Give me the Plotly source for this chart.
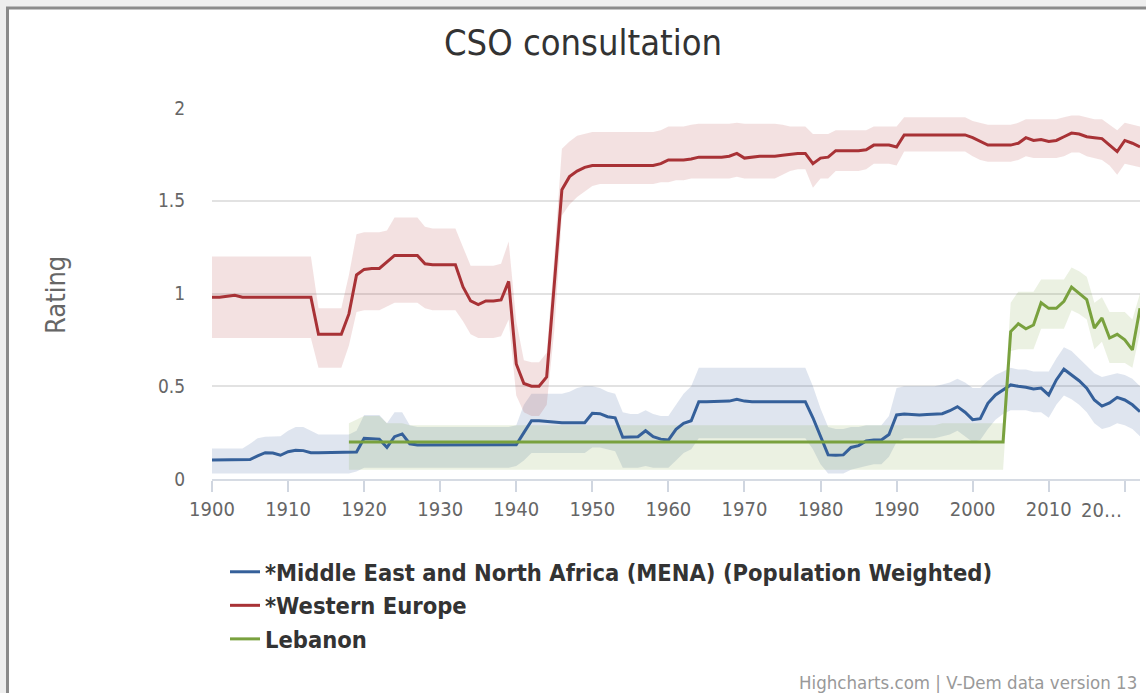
import plotly.graph_objects as go

# ---------------- data ----------------
years = list(range(1900, 2023))
leb_years = list(range(1918, 2023))

x_tick_years = [1900, 1910, 1920, 1930, 1940, 1950, 1960, 1970, 1980, 1990, 2000, 2010, 2020]
x_tick_labels = ["1900", "1910", "1920", "1930", "1940", "1950", "1960", "1970",
                 "1980", "1990", "2000", "2010", "20…"]
y_tick_vals = [0, 0.5, 1, 1.5, 2]
y_tick_labels = ["0", "0.5", "1", "1.5", "2"]

mena = [
    0.102, 0.102, 0.102, 0.102, 0.102, 0.105, 0.125, 0.142, 0.140, 0.128,
    0.147, 0.155, 0.153, 0.142, 0.142, 0.142, 0.142, 0.142, 0.142, 0.145,
    0.219, 0.219, 0.215, 0.170, 0.228, 0.243, 0.190, 0.183, 0.183, 0.183,
    0.183, 0.183, 0.183, 0.183, 0.183, 0.183, 0.183, 0.183, 0.183, 0.183,
    0.185, 0.250, 0.314, 0.314, 0.310, 0.303, 0.303, 0.303, 0.303, 0.303,
    0.354, 0.352, 0.336, 0.330, 0.225, 0.227, 0.228, 0.260, 0.228, 0.215,
    0.210, 0.268, 0.300, 0.314, 0.417, 0.417, 0.417, 0.417, 0.420, 0.430,
    0.420, 0.417, 0.417, 0.417, 0.417, 0.417, 0.417, 0.417, 0.417, 0.330,
    0.230, 0.130, 0.128, 0.130, 0.170, 0.180, 0.205, 0.210, 0.210, 0.240,
    0.345, 0.350, 0.348, 0.345, 0.348, 0.350, 0.352, 0.368, 0.390, 0.360,
    0.320, 0.325, 0.408, 0.453, 0.480, 0.507, 0.500, 0.495, 0.485, 0.490,
    0.453, 0.534, 0.592, 0.560, 0.530, 0.490, 0.426, 0.393, 0.410, 0.440,
    0.426, 0.400, 0.363,
]
mena_hi = [
    0.165, 0.165, 0.165, 0.165, 0.165, 0.190, 0.220, 0.228, 0.228, 0.230,
    0.260, 0.280, 0.280, 0.260, 0.240, 0.240, 0.240, 0.240, 0.240, 0.260,
    0.345, 0.345, 0.345, 0.300, 0.360, 0.360, 0.290, 0.280, 0.280, 0.280,
    0.280, 0.280, 0.280, 0.280, 0.280, 0.280, 0.280, 0.280, 0.280, 0.280,
    0.290, 0.400, 0.460, 0.460, 0.460, 0.460, 0.460, 0.470, 0.490, 0.500,
    0.500, 0.490, 0.470, 0.460, 0.360, 0.350, 0.350, 0.370, 0.350, 0.340,
    0.340, 0.400, 0.460, 0.500, 0.600, 0.600, 0.600, 0.600, 0.600, 0.600,
    0.600, 0.600, 0.600, 0.600, 0.600, 0.600, 0.600, 0.600, 0.600, 0.500,
    0.380, 0.280, 0.270, 0.270, 0.280, 0.280, 0.290, 0.290, 0.290, 0.340,
    0.490, 0.500, 0.500, 0.500, 0.500, 0.500, 0.510, 0.520, 0.540, 0.520,
    0.490, 0.490, 0.530, 0.560, 0.580, 0.600, 0.590, 0.590, 0.580, 0.580,
    0.580, 0.650, 0.710, 0.690, 0.650, 0.610, 0.570, 0.550, 0.560, 0.570,
    0.560, 0.540, 0.500,
]
mena_lo = [
    0.030, 0.030, 0.030, 0.030, 0.030, 0.030, 0.030, 0.030, 0.030, 0.030,
    0.030, 0.030, 0.030, 0.030, 0.030, 0.030, 0.030, 0.030, 0.030, 0.040,
    0.060, 0.060, 0.060, 0.060, 0.060, 0.060, 0.060, 0.060, 0.060, 0.060,
    0.060, 0.060, 0.060, 0.060, 0.060, 0.060, 0.060, 0.060, 0.060, 0.060,
    0.070, 0.100, 0.140, 0.140, 0.140, 0.140, 0.140, 0.140, 0.140, 0.140,
    0.170, 0.170, 0.160, 0.150, 0.060, 0.060, 0.060, 0.070, 0.060, 0.060,
    0.060, 0.100, 0.140, 0.160, 0.220, 0.220, 0.220, 0.220, 0.220, 0.220,
    0.220, 0.220, 0.220, 0.220, 0.220, 0.220, 0.220, 0.220, 0.220, 0.160,
    0.080, 0.030, 0.030, 0.030, 0.050, 0.060, 0.070, 0.080, 0.080, 0.120,
    0.200, 0.220, 0.220, 0.220, 0.220, 0.220, 0.230, 0.240, 0.260, 0.230,
    0.200, 0.210, 0.270, 0.320, 0.350, 0.370, 0.370, 0.370, 0.360, 0.360,
    0.330, 0.400, 0.450, 0.430, 0.400, 0.360, 0.300, 0.270, 0.280, 0.300,
    0.290, 0.270, 0.230,
]

weu = [
    0.980, 0.980, 0.985, 0.990, 0.980, 0.980, 0.980, 0.980, 0.980, 0.980,
    0.980, 0.980, 0.980, 0.980, 0.780, 0.780, 0.780, 0.780, 0.890, 1.100,
    1.130, 1.135, 1.135, 1.170, 1.205, 1.205, 1.205, 1.205, 1.160, 1.155,
    1.155, 1.155, 1.155, 1.035, 0.960, 0.940, 0.960, 0.960, 0.965, 1.065,
    0.620, 0.515, 0.500, 0.500, 0.550, 1.050, 1.560, 1.630, 1.660, 1.680,
    1.690, 1.690, 1.690, 1.690, 1.690, 1.690, 1.690, 1.690, 1.690, 1.700,
    1.720, 1.720, 1.720, 1.725, 1.735, 1.735, 1.735, 1.735, 1.740, 1.755,
    1.730, 1.735, 1.740, 1.740, 1.740, 1.745, 1.750, 1.755, 1.755, 1.700,
    1.730, 1.735, 1.770, 1.770, 1.770, 1.770, 1.775, 1.800, 1.800, 1.800,
    1.790, 1.855, 1.855, 1.855, 1.855, 1.855, 1.855, 1.855, 1.855, 1.855,
    1.840, 1.820, 1.800, 1.800, 1.800, 1.800, 1.810, 1.840, 1.825, 1.830,
    1.820, 1.825, 1.845, 1.865, 1.860, 1.845, 1.840, 1.835, 1.800, 1.765,
    1.825, 1.810, 1.790,
]
weu_hi = [
    1.200, 1.200, 1.200, 1.200, 1.200, 1.200, 1.200, 1.200, 1.200, 1.200,
    1.200, 1.200, 1.200, 1.200, 0.920, 0.920, 0.920, 0.920, 1.100, 1.320,
    1.330, 1.330, 1.330, 1.340, 1.410, 1.410, 1.410, 1.410, 1.360, 1.350,
    1.350, 1.350, 1.350, 1.250, 1.150, 1.150, 1.150, 1.150, 1.160, 1.280,
    0.850, 0.640, 0.630, 0.630, 0.680, 1.200, 1.780, 1.820, 1.850, 1.860,
    1.870, 1.870, 1.870, 1.870, 1.870, 1.870, 1.870, 1.870, 1.870, 1.880,
    1.900, 1.900, 1.900, 1.910, 1.915, 1.915, 1.915, 1.915, 1.915, 1.920,
    1.915, 1.915, 1.915, 1.915, 1.915, 1.910, 1.900, 1.900, 1.900, 1.860,
    1.860, 1.860, 1.880, 1.880, 1.880, 1.880, 1.880, 1.900, 1.900, 1.900,
    1.900, 1.950, 1.950, 1.950, 1.950, 1.950, 1.950, 1.950, 1.950, 1.950,
    1.930, 1.920, 1.910, 1.910, 1.910, 1.910, 1.920, 1.940, 1.940, 1.940,
    1.940, 1.940, 1.950, 1.960, 1.960, 1.950, 1.940, 1.940, 1.910, 1.880,
    1.920, 1.910, 1.900,
]
weu_lo = [
    0.760, 0.760, 0.760, 0.760, 0.760, 0.760, 0.760, 0.760, 0.760, 0.760,
    0.760, 0.760, 0.760, 0.760, 0.600, 0.600, 0.600, 0.600, 0.720, 0.900,
    0.910, 0.910, 0.910, 0.930, 0.950, 0.950, 0.950, 0.950, 0.920, 0.910,
    0.910, 0.910, 0.910, 0.850, 0.780, 0.760, 0.760, 0.760, 0.770, 0.860,
    0.450, 0.360, 0.340, 0.340, 0.400, 0.800, 1.420, 1.480, 1.520, 1.550,
    1.580, 1.590, 1.590, 1.590, 1.590, 1.590, 1.590, 1.590, 1.590, 1.600,
    1.600, 1.610, 1.610, 1.620, 1.620, 1.620, 1.620, 1.620, 1.620, 1.630,
    1.620, 1.620, 1.620, 1.620, 1.620, 1.640, 1.660, 1.670, 1.670, 1.570,
    1.620, 1.620, 1.660, 1.660, 1.660, 1.660, 1.670, 1.700, 1.700, 1.700,
    1.690, 1.765, 1.765, 1.765, 1.765, 1.765, 1.765, 1.765, 1.765, 1.765,
    1.740, 1.720, 1.710, 1.710, 1.710, 1.710, 1.720, 1.740, 1.730, 1.730,
    1.730, 1.730, 1.740, 1.760, 1.760, 1.740, 1.730, 1.720, 1.690, 1.640,
    1.700, 1.690, 1.680,
]

leb = [
    0.200, 0.200,
    0.200, 0.200, 0.200, 0.200, 0.200, 0.200, 0.200, 0.200, 0.200, 0.200,
    0.200, 0.200, 0.200, 0.200, 0.200, 0.200, 0.200, 0.200, 0.200, 0.200,
    0.200, 0.200, 0.200, 0.200, 0.200, 0.200, 0.200, 0.200, 0.200, 0.200,
    0.200, 0.200, 0.200, 0.200, 0.200, 0.200, 0.200, 0.200, 0.200, 0.200,
    0.200, 0.200, 0.200, 0.200, 0.200, 0.200, 0.200, 0.200, 0.200, 0.200,
    0.200, 0.200, 0.200, 0.200, 0.200, 0.200, 0.200, 0.200, 0.200, 0.200,
    0.200, 0.200, 0.200, 0.200, 0.200, 0.200, 0.200, 0.200, 0.200, 0.200,
    0.200, 0.200, 0.200, 0.200, 0.200, 0.200, 0.200, 0.200, 0.200, 0.200,
    0.200, 0.200, 0.200, 0.200, 0.200, 0.795, 0.837, 0.810, 0.830, 0.950,
    0.920, 0.920, 0.958, 1.035, 1.000, 0.967, 0.814, 0.868, 0.760, 0.780,
    0.750, 0.696, 0.920,
]
leb_hi = [
    0.300, 0.320,
    0.340, 0.340, 0.340, 0.300, 0.300, 0.300, 0.290, 0.290, 0.290, 0.290,
    0.290, 0.290, 0.290, 0.290, 0.290, 0.290, 0.290, 0.290, 0.290, 0.290,
    0.290, 0.290, 0.290, 0.290, 0.290, 0.290, 0.290, 0.290, 0.290, 0.290,
    0.290, 0.290, 0.290, 0.290, 0.290, 0.290, 0.290, 0.290, 0.290, 0.290,
    0.290, 0.290, 0.290, 0.290, 0.290, 0.290, 0.290, 0.290, 0.290, 0.290,
    0.290, 0.290, 0.290, 0.290, 0.290, 0.290, 0.290, 0.290, 0.290, 0.290,
    0.290, 0.290, 0.290, 0.290, 0.290, 0.290, 0.290, 0.290, 0.290, 0.290,
    0.290, 0.290, 0.290, 0.290, 0.290, 0.290, 0.300, 0.300, 0.300, 0.300,
    0.300, 0.300, 0.300, 0.300, 0.300, 0.950, 1.010, 1.010, 1.010, 1.075,
    1.075, 1.075, 1.075, 1.140, 1.120, 1.090, 0.950, 0.980, 0.900, 0.900,
    0.900, 0.860, 1.000,
]
leb_lo = [
    0.050, 0.050,
    0.050, 0.050, 0.050, 0.050, 0.050, 0.050, 0.050, 0.050, 0.050, 0.050,
    0.050, 0.050, 0.050, 0.050, 0.050, 0.050, 0.050, 0.050, 0.050, 0.050,
    0.050, 0.050, 0.050, 0.050, 0.050, 0.050, 0.050, 0.050, 0.050, 0.050,
    0.050, 0.050, 0.050, 0.050, 0.050, 0.050, 0.050, 0.050, 0.050, 0.050,
    0.050, 0.050, 0.050, 0.050, 0.050, 0.050, 0.050, 0.050, 0.050, 0.050,
    0.050, 0.050, 0.050, 0.050, 0.050, 0.050, 0.050, 0.050, 0.050, 0.050,
    0.050, 0.050, 0.050, 0.050, 0.050, 0.050, 0.050, 0.050, 0.050, 0.050,
    0.050, 0.050, 0.050, 0.050, 0.050, 0.050, 0.050, 0.050, 0.050, 0.050,
    0.050, 0.050, 0.050, 0.050, 0.050, 0.690, 0.700, 0.700, 0.700, 0.810,
    0.810, 0.810, 0.810, 0.910, 0.890, 0.860, 0.700, 0.740, 0.625, 0.625,
    0.625, 0.600, 0.790,
]

series = [
    ("*Middle East and North Africa (MENA) (Population Weighted)", years, mena, mena_hi, mena_lo,
     "#35609a", "rgba(53,96,154,0.16)"),
    ("*Western Europe", years, weu, weu_hi, weu_lo,
     "#a83236", "rgba(176,52,56,0.15)"),
    ("Lebanon", leb_years, leb, leb_hi, leb_lo,
     "#79a13e", "rgba(121,161,62,0.15)"),
]

# ---------------- figure ----------------
W, H = 1146, 693
L, R, T, B = 212, 6, 108, 214
PW, PH = W - L - R, H - T - B

def px2x(px):
    return (px - L) / PW

def px2y(py):
    return (H - B - py) / PH

FONT = "DejaVu Sans Condensed, DejaVu Sans"
fig = go.Figure()

# bands first
for name, xs, ys, hi, lo, col, fill in series:
    fig.add_trace(go.Scatter(
        x=list(xs) + list(xs)[::-1],
        y=list(hi) + list(lo)[::-1],
        fill="toself", fillcolor=fill, line=dict(width=0),
        mode="lines", hoverinfo="skip", showlegend=False,
    ))

for i, (name, xs, ys, hi, lo, col, fill) in enumerate(series):
    fig.add_trace(go.Scatter(
        x=xs, y=ys, name=name, mode="lines",
        line=dict(color=col, width=3),
        legendgroup=f"g{i}",
    ))

shapes = [
    dict(type="rect", xref="paper", yref="paper", x0=px2x(0), x1=px2x(W), y0=px2y(0), y1=px2y(7),
         fillcolor="#eeeeee", line=dict(width=0), layer="below"),
    dict(type="rect", xref="paper", yref="paper", x0=px2x(0), x1=px2x(6), y0=px2y(0), y1=px2y(H),
         fillcolor="#eeeeee", line=dict(width=0), layer="below"),
    dict(type="line", xref="paper", yref="paper", x0=px2x(6), x1=px2x(W), y0=px2y(8), y1=px2y(8),
         line=dict(color="#8a8a8a", width=3)),
    dict(type="line", xref="paper", yref="paper", x0=px2x(7.5), x1=px2x(7.5), y0=px2y(7), y1=px2y(H),
         line=dict(color="#8a8a8a", width=3)),
]

# the last category label is pushed left in the original (justified overflow):
# keep its tick, draw its text as an annotation nudged left so it stays inside the chart
shown_tick_labels = x_tick_labels[:-1] + [""]

annotations = [
    dict(text="CSO consultation", xref="paper", yref="paper", x=px2x(583), y=px2y(42),
         xanchor="center", yanchor="middle", showarrow=False,
         font=dict(family=FONT, size=36, color="#333333")),
    dict(text="Rating", xref="paper", yref="paper", x=px2x(55), y=px2y(295),
         xanchor="center", yanchor="middle", showarrow=False, textangle=-90,
         font=dict(family=FONT, size=27, color="#666666")),
    dict(text="Highcharts.com | V-Dem data version 13", xref="paper", yref="paper",
         x=px2x(1139), y=px2y(682), xanchor="right", yanchor="middle", showarrow=False,
         font=dict(family=FONT, size=18.5, color="#999999")),
    dict(text=x_tick_labels[-1], xref="x", yref="paper", x=x_tick_years[-1], xshift=-23,
         y=px2y(509.5), xanchor="center", yanchor="middle", showarrow=False,
         font=dict(family=FONT, size=20, color="#666666")),
]

fig.update_layout(
    width=W, height=H,
    margin=dict(l=L, r=R, t=T, b=B, autoexpand=False),
    paper_bgcolor="white", plot_bgcolor="white",
    showlegend=True,
    legend=dict(orientation="v", x=px2x(225), y=px2y(550), xanchor="left", yanchor="top",
                font=dict(family=FONT, size=23.5, color="#333333", weight="bold"),
                tracegroupgap=0, bgcolor="rgba(0,0,0,0)", itemwidth=30),
    shapes=shapes,
    annotations=annotations,
    hovermode=False,
)
fig.update_xaxes(
    range=[1900, 2022], tickmode="array", tickvals=x_tick_years, ticktext=shown_tick_labels,
    showgrid=False, zeroline=False, showline=True, linecolor="#d6dbe3", linewidth=1.5,
    ticks="outside", ticklen=11, tickwidth=1.5, tickcolor="#d0d6e0",
    tickfont=dict(family=FONT, size=20, color="#666666"),
)
fig.update_yaxes(
    range=[0, 2], tickmode="array", tickvals=y_tick_vals, ticktext=y_tick_labels,
    showgrid=True, gridcolor="#e2e2e2", gridwidth=1.5, zeroline=False, showline=False,
    ticks="outside", ticklen=22, tickcolor="rgba(0,0,0,0)",
    tickfont=dict(family=FONT, size=19, color="#666666"),
)

fig.write_html("out.html")
